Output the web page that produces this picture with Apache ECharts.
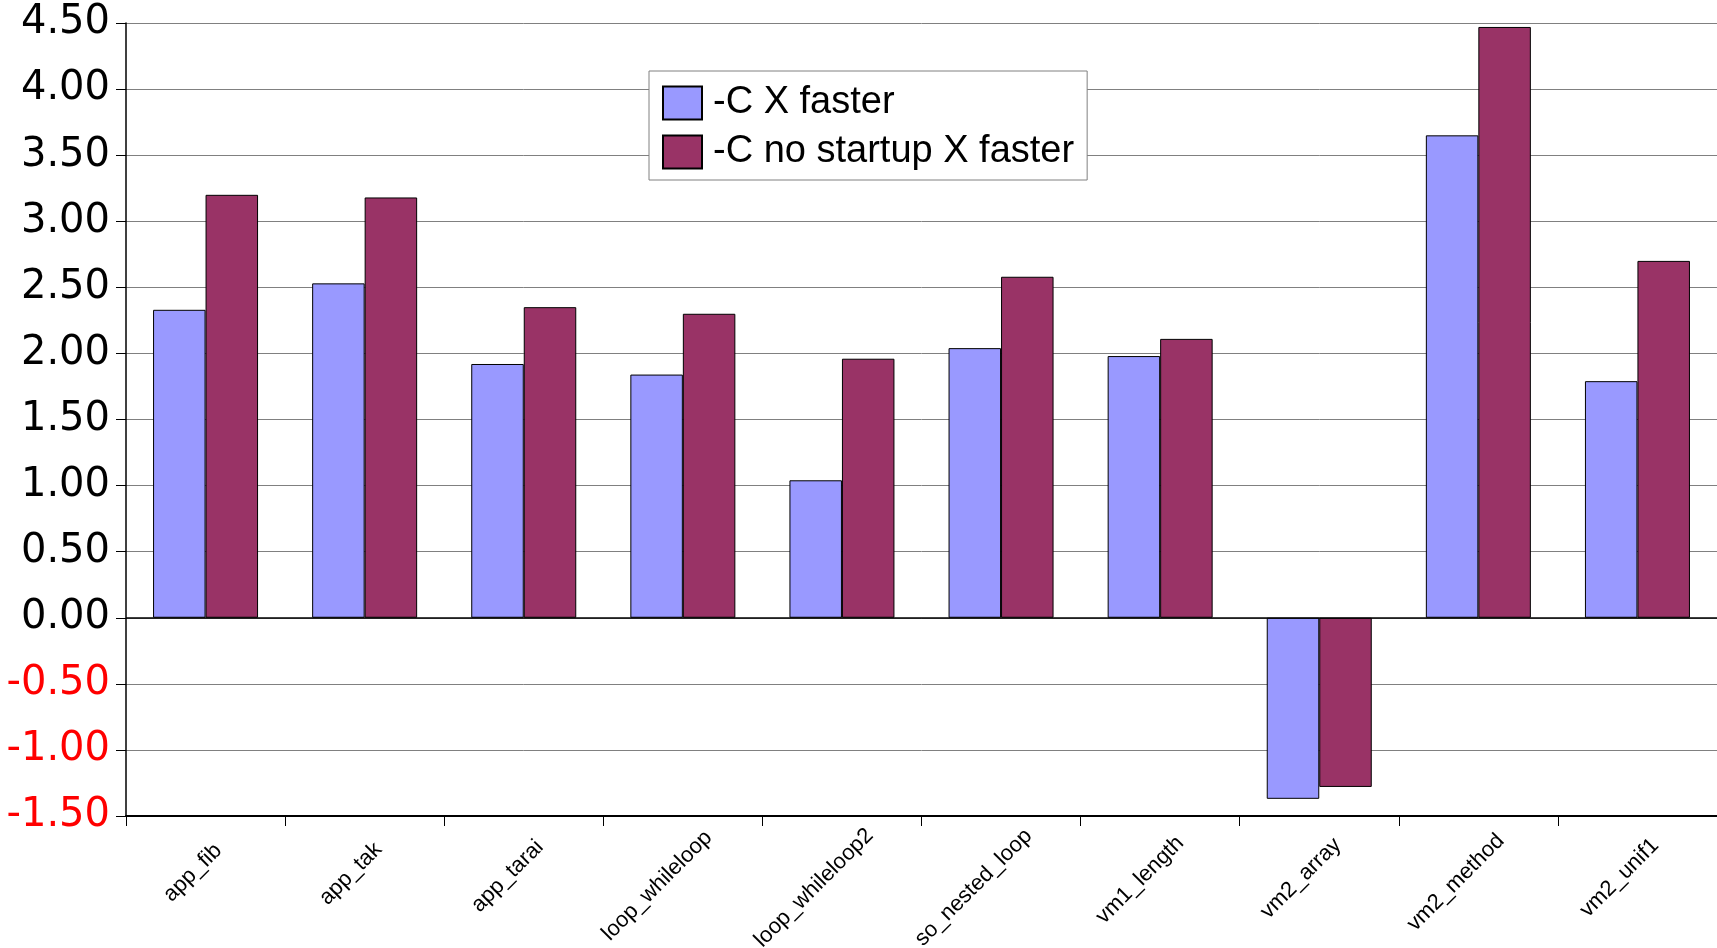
<!DOCTYPE html>
<html><head><meta charset="utf-8">
<script src="https://cdn.jsdelivr.net/npm/echarts@6/dist/echarts.min.js"></script>
<style>html,body{margin:0;padding:0;background:#fff}#c{width:1717px;height:948px}</style>
</head><body><div id="c"></div>
<script>
const categories = ['app_fib', 'app_tak', 'app_tarai', 'loop_whileloop', 'loop_whileloop2',
  'so_nested_loop', 'vm1_length', 'vm2_array', 'vm2_method', 'vm2_unif1'];
const seriesNames = ['-C X faster', '-C no startup X faster'];
const cXFaster = [2.33, 2.53, 1.92, 1.84, 1.04, 2.04, 1.98, -1.37, 3.65, 1.79];
const cNoStartupXFaster = [3.20, 3.18, 2.35, 2.30, 1.96, 2.58, 2.11, -1.28, 4.47, 2.70];
const yMin = -1.5, yMax = 4.5, yStep = 0.5;

const labelFontSize = 22, labelFont = 'Liberation Sans';
const ctx = document.createElement('canvas').getContext('2d');
ctx.font = labelFontSize + 'px "' + labelFont + '"';
const xData = categories.map(c => {
  const L = ctx.measureText(c).width;
  return { value: c, textStyle: { align: 'center', verticalAlign: 'middle', padding: [L / 2, L / 2, 0, 0] } };
});

const chart = echarts.init(document.getElementById('c'));
chart.setOption({
  animation: false,
  backgroundColor: '#fff',
  grid: { left: 126, right: 0, top: 23, bottom: 132, outerBoundsMode: 'none' },
  legend: {
    orient: 'vertical', left: 649, top: 71, icon: 'rect',
    itemWidth: 39, itemHeight: 33, itemGap: 11,
    padding: [13, 13, 9, 13], borderColor: '#808080', borderWidth: 1,
    backgroundColor: '#fff', selectedMode: false,
    textStyle: { fontFamily: 'Liberation Sans', fontSize: 38, color: '#000', padding: [0, 0, 0, 6] },
    data: seriesNames
  },
  xAxis: {
    type: 'category', data: xData, boundaryGap: true,
    axisLine: { onZero: false, lineStyle: { color: '#000', width: 2 } },
    axisTick: { show: true, length: 10, lineStyle: { color: '#000', width: 1 } },
    axisLabel: {
      interval: 0, rotate: 45, align: 'center', verticalAlign: 'middle', margin: 44,
      fontFamily: labelFont, fontSize: labelFontSize, color: '#000'
    },
    splitLine: { show: false }
  },
  yAxis: {
    type: 'value', min: yMin, max: yMax, interval: yStep,
    axisLine: { show: true, lineStyle: { color: '#000', width: 1.5 } },
    axisTick: { show: true, length: 10, lineStyle: { color: '#000' } },
    axisLabel: {
      margin: 16, fontFamily: 'DejaVu Sans', fontSize: 40,
      formatter: v => Number(v).toFixed(2),
      color: v => Number(v) < 0 ? '#ff0000' : '#000000'
    },
    splitLine: { show: true, lineStyle: { color: '#808080', width: 1 } }
  },
  series: [
    {
      name: seriesNames[0], type: 'bar', data: cXFaster,
      barGap: '0%', barCategoryGap: '34%',
      itemStyle: { color: '#9999ff', borderColor: '#000', borderWidth: 1 }
    },
    {
      name: seriesNames[1], type: 'bar', data: cNoStartupXFaster,
      barGap: '0%', barCategoryGap: '34%',
      itemStyle: { color: '#993366', borderColor: '#000', borderWidth: 1 },
      markLine: {
        silent: true, symbol: 'none', label: { show: false },
        lineStyle: { color: '#000', width: 1.5, type: 'solid' },
        data: [{ yAxis: 0 }]
      }
    }
  ]
});
</script></body></html>
